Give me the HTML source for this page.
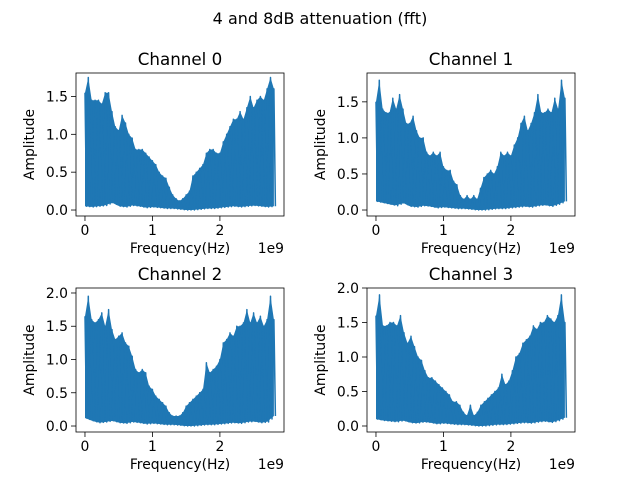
<!DOCTYPE html>
<html><head><meta charset="utf-8"><style>
body{margin:0;background:#fff}
svg{display:block;font-family:"DejaVu Sans","Liberation Sans",sans-serif}
</style></head><body>
<svg id="fig" width="640" height="480" viewBox="0 0 640 480">
<rect width="640" height="480" fill="#fff"/>
<text x="320" y="24" text-anchor="middle" font-size="16">4 and 8dB attenuation (fft)</text>
</svg>
<script>
const channelNames = ['Channel 0','Channel 1','Channel 2','Channel 3'];
const xTicks = [0,1,2];
const yTicks0 = [0.0,0.5,1.0,1.5];
const yTicks1 = [0.0,0.5,1.0,1.5];
const yTicks2 = [0.0,0.5,1.0,1.5,2.0];
const yTicks3 = [0.0,0.5,1.0,1.5,2.0];
const freqMax = 2.8;
const peak0 = [1.55,1.75,1.45,1.45,1.45,1.4,1.55,1.55,1.3,1.1,1.05,1.25,1.15,1.0,0.95,0.8,0.8,0.8,0.75,0.7,0.65,0.6,0.5,0.45,0.42,0.3,0.2,0.15,0.12,0.15,0.2,0.25,0.45,0.5,0.55,0.6,0.75,0.8,0.8,0.75,0.75,0.9,1.0,1.1,1.2,1.2,1.3,1.2,1.35,1.5,1.35,1.45,1.5,1.45,1.6,1.75,1.6];
const peak1 = [1.5,1.8,1.4,1.35,1.35,1.55,1.4,1.6,1.4,1.2,1.2,1.3,1.1,1.0,1.0,0.8,0.75,0.8,0.75,0.8,0.6,0.55,0.55,0.4,0.35,0.2,0.15,0.2,0.15,0.2,0.15,0.3,0.45,0.5,0.55,0.5,0.6,0.8,0.75,0.8,0.75,0.9,1.0,1.2,1.3,1.1,1.2,1.35,1.6,1.35,1.35,1.4,1.35,1.55,1.4,1.8,1.55];
const peak2 = [1.65,1.95,1.6,1.55,1.6,1.7,1.5,1.75,1.45,1.3,1.35,1.4,1.25,1.2,1.05,0.85,0.8,0.85,0.8,0.6,0.55,0.45,0.4,0.35,0.3,0.2,0.15,0.15,0.15,0.2,0.3,0.35,0.4,0.45,0.5,0.55,0.95,0.8,0.85,0.9,1.0,1.25,1.3,1.4,1.35,1.5,1.5,1.55,1.75,1.55,1.7,1.55,1.65,1.5,1.6,1.95,1.6];
const peak3 = [1.6,1.9,1.45,1.45,1.5,1.5,1.45,1.6,1.35,1.2,1.3,1.15,1.0,0.95,0.8,0.7,0.7,0.65,0.6,0.55,0.5,0.45,0.35,0.35,0.3,0.2,0.15,0.3,0.15,0.2,0.3,0.35,0.4,0.45,0.5,0.55,0.75,0.6,0.65,0.8,1.0,1.05,1.2,1.25,1.3,1.45,1.4,1.5,1.5,1.6,1.55,1.5,1.6,1.9,1.5];
const floor0 = [0.05,0.04,0.05,0.06,0.1,0.05,0.04,0.06,0.05,0.03,0.04,0.03,0.02,0.02,0.01,0.0,0.0,0.01,0.02,0.02,0.03,0.04,0.05,0.04,0.05,0.06,0.05,0.04,0.05];
const floor1 = [0.12,0.1,0.08,0.06,0.1,0.05,0.04,0.06,0.05,0.03,0.04,0.03,0.02,0.02,0.01,0.0,0.0,0.01,0.02,0.02,0.03,0.04,0.05,0.04,0.06,0.07,0.05,0.08,0.12];
const floor2 = [0.12,0.08,0.05,0.06,0.08,0.05,0.04,0.06,0.05,0.03,0.04,0.03,0.02,0.02,0.01,0.0,0.0,0.01,0.02,0.02,0.03,0.04,0.05,0.04,0.06,0.07,0.05,0.06,0.15];
const floor3 = [0.1,0.08,0.07,0.06,0.08,0.05,0.04,0.06,0.05,0.03,0.04,0.03,0.02,0.02,0.01,0.0,0.0,0.01,0.02,0.02,0.03,0.04,0.05,0.04,0.06,0.07,0.05,0.08,0.12];
const peaks=[peak0,peak1,peak2,peak3], floors=[floor0,floor1,floor2,floor3];
const yTickSets=[yTicks0,yTicks1,yTicks2,yTicks3];
const yRanges=[[-0.079,1.81],[-0.083,1.90],[-0.09,2.075],[-0.087,2.0]];
const boxes=[[76,73,284,216],[367,73,575,216],[76,288,284,432],[367,288,575,432]];
const NS='http://www.w3.org/2000/svg', fig=document.getElementById('fig');
function mk(t,a,p){const e=document.createElementNS(NS,t);for(const k in a)e.setAttribute(k,a[k]);(p||fig).appendChild(e);return e;}
function interp(arr,x){const f=x/freqMax*(arr.length-1);const i=Math.floor(f),j=Math.min(i+1,arr.length-1);return arr[i]+(arr[j]-arr[i])*(f-i);}
for(let c=0;c<4;c++){
  const [L,T,R,B]=boxes[c];const [y0,y1]=yRanges[c];
  const xs=v=>L+(v-(-0.133))/(2.95-(-0.133))*(R-L);
  const ys=v=>B-(v-y0)/(y1-y0)*(B-T);
  const g=mk('g',{});
  
  
  const pk=peaks[c], fl=floors[c];
  let up='';
  for(let i=0;i<pk.length;i++){const f=i*freqMax/(pk.length-1);up+=(i?'L':'M')+xs(f).toFixed(1)+','+ys(pk[i]).toFixed(1);}
  let zig='';
  for(let i=0;i<pk.length;i++){const f=i*freqMax/(pk.length-1);
    zig+=(i?'L':'M')+xs(f).toFixed(1)+','+ys(pk[i]).toFixed(1)+'L'+(xs(f)+1.5).toFixed(1)+','+ys(interp(fl,f)).toFixed(1);}
  const n=60;let area=up;
  for(let k=n;k>=0;k--){const f=k*freqMax/n;area+='L'+xs(f).toFixed(1)+','+ys(interp(fl,f)).toFixed(1);}
  area+='Z';
  const a=mk('path',{d:area,fill:'#1f77b4',stroke:'none'},g);
  
  
  const z=mk('path',{d:zig,fill:'none',stroke:'#1f77b4','stroke-width':1.5,'stroke-linejoin':'round'},g);
  
  
  const fr=mk('rect',{x:L,y:T,width:R-L,height:B-T,fill:'none',stroke:'#000','stroke-width':0.8},g);
  
  
  for(const t of xTicks){const x=xs(t);
    mk('line',{x1:x,x2:x,y1:B,y2:B+5,stroke:'#000','stroke-width':0.8},g);
    const tx=mk('text',{x:x,y:B+19,'text-anchor':'middle','font-size':13.9},g);tx.textContent=t;
    
    }
  for(const t of yTickSets[c]){const y=ys(t);
    mk('line',{x1:L-5,x2:L,y1:y,y2:y,stroke:'#000','stroke-width':0.8},g);
    const tx=mk('text',{x:L-8,y:y+5,'text-anchor':'end','font-size':13.9},g);tx.textContent=t.toFixed(1);
    
    }
  const ti=mk('text',{x:(L+R)/2,y:T-8,'text-anchor':'middle','font-size':16.7},g);ti.textContent=channelNames[c];
  
  
  const xl=mk('text',{x:(L+R)/2,y:B+37,'text-anchor':'middle','font-size':13.9},g);xl.textContent='Frequency(Hz)';
  
  
  const off=mk('text',{x:R,y:B+37,'text-anchor':'end','font-size':13.9},g);off.textContent='1e9';
  
  
  const yx=L-42, yc=(T+B)/2;
  const yl=mk('text',{x:yx,y:yc,'text-anchor':'middle','font-size':13.9,transform:'rotate(-90 '+yx+' '+yc+')'},g);yl.textContent='Amplitude';
  
  
}
</script>
</body></html>
